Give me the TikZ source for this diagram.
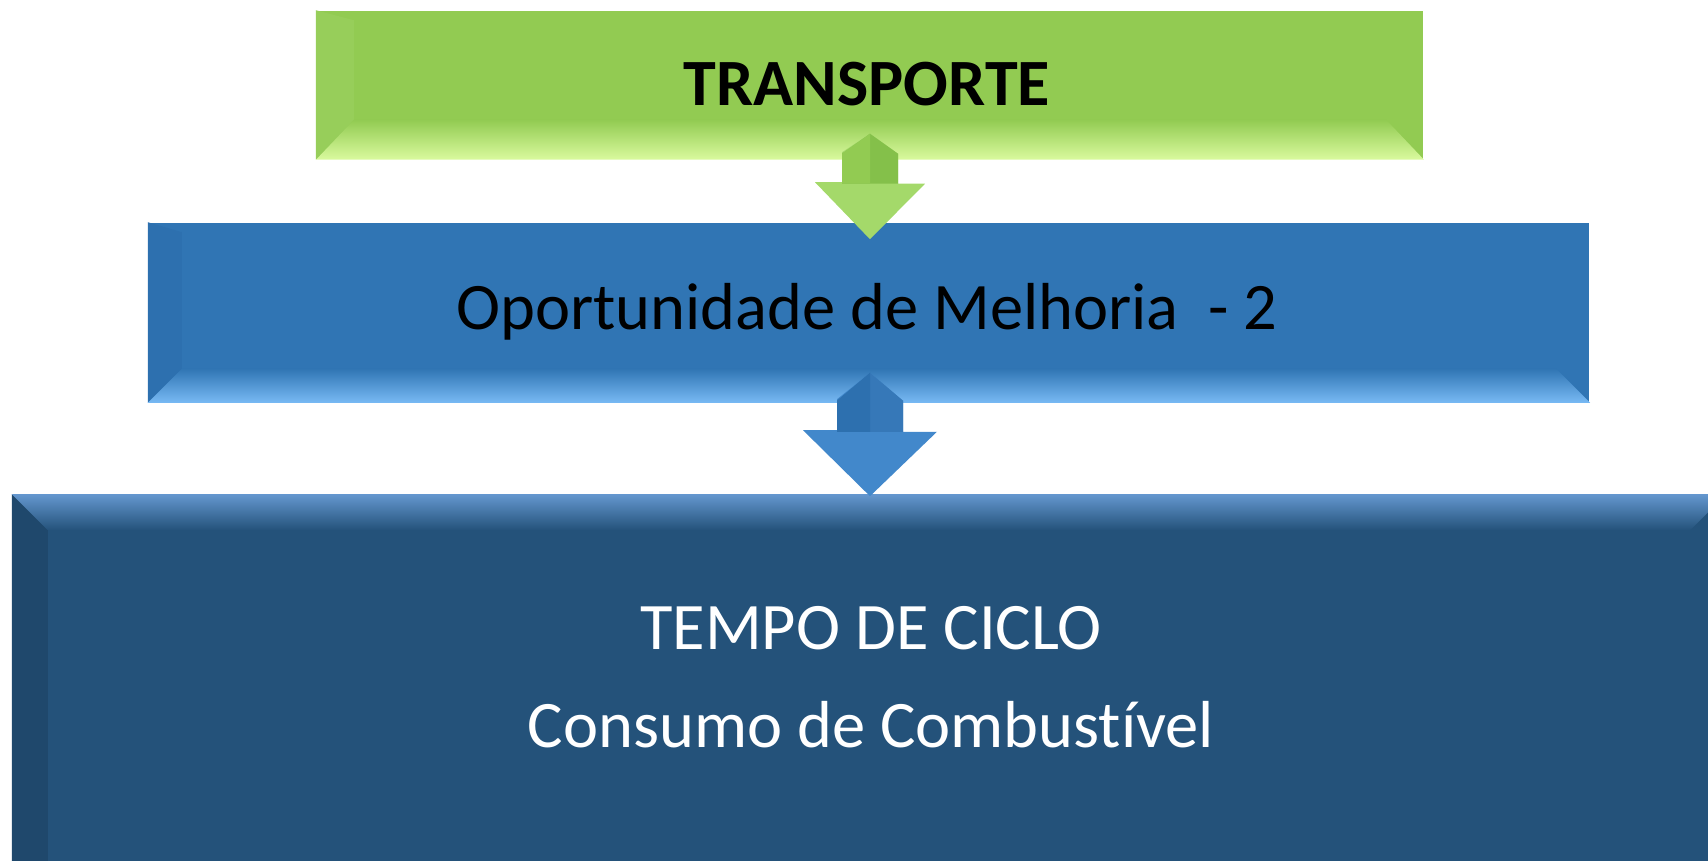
\documentclass[tikz,border=0pt]{standalone}
\usepackage{fontspec}
\setmainfont[Ligatures=NoCommon]{Carlito}
\usetikzlibrary{positioning,calc}

\definecolor{leafgreen}{HTML}{92CB52}
\definecolor{leaflight}{HTML}{DAFA9E}
\definecolor{leafside}{HTML}{97CE5A}
\definecolor{leafshaft}{HTML}{84C04A}
\definecolor{leafhead}{HTML}{A4D96A}
\definecolor{midblue}{HTML}{3075B4}
\definecolor{midlight}{HTML}{78BAF4}
\definecolor{midside}{HTML}{2D70AF}
\definecolor{midshaft}{HTML}{3678B8}
\definecolor{midhead}{HTML}{4288CB}
\definecolor{deepblue}{HTML}{24527A}
\definecolor{deeplight}{HTML}{6497CF}
\definecolor{deepside}{HTML}{1F486C}

\begin{document}
\begin{tikzpicture}[x=0.01cm,y=0.01cm,
  box/.style={rectangle, inner sep=0pt, draw=none},
  lbl/.style={inner sep=0pt, align=center}]
\useasboundingbox (0,0) rectangle (1708,-861);

%Boxes
\node[box, fill=leafgreen, minimum width=11.06cm, minimum height=1.48cm] (T) at (870,-85) {};
\node[box, fill=midblue, minimum width=14.40cm, minimum height=1.79cm] (O) at (869,-312.5) {};
\node[box, fill=deepblue, minimum width=17.12cm, minimum height=3.85cm] (C) at (869,-687.5) {};

%Bevels
\fill[leafside] (T.south west) -- (T.north west) -- ++(38,-10) -- ($(T.south west)+(38,40)$) -- cycle;
\shade[top color=leafgreen, bottom color=leaflight] (T.south west) -- (T.south east) -- ++(-38,40) -- ($(T.south west)+(38,40)$) -- cycle;
\fill[midside] (O.south west) -- (O.north west) -- ++(34,-10) -- ($(O.south west)+(34,34)$) -- cycle;
\shade[top color=midblue, bottom color=midlight] (O.south west) -- (O.south east) -- ++(-34,34) -- ($(O.south west)+(34,34)$) -- cycle;
\fill[deepside] (C.north west) -- (C.south west) -- ++(36,0) -- ($(C.north west)+(36,-36)$) -- cycle;
\shade[top color=deeplight, bottom color=deepblue] (C.north west) -- (C.north east) -- ++(-36,-36) -- ($(C.north west)+(36,-36)$) -- cycle;

%Arrows
\coordinate (a1) at ($(T.south)+(0,26)$);
\coordinate (b1) at ($(O.north)+(1,-17)$);
\fill[leafhead] (a1) -- ++(28,-20) -- ++(0,-30) -- ++(27,0) -- (b1) -- ++(-55,57) -- ++(27,0) -- ++(0,30) -- cycle;
\fill[leafshaft] (a1) -- ++(28,-20) -- ++(0,-30) -- ++(-56,0) -- ++(0,30) -- cycle;
\fill[leafgreen] (a1) -- ++(-28,-20) -- ++(0,-30) -- ++(28,0) -- cycle;
\coordinate (a2) at ($(O.south)+(1,30)$);
\coordinate (b2) at ($(C.north)+(1,-2)$);
\fill[midhead] (a2) -- ++(33,-28) -- ++(0,-31) -- ++(34,0) -- (b2) -- ++(-67,66) -- ++(34,0) -- ++(0,31) -- cycle;
\fill[midshaft] (a2) -- ++(33,-28) -- ++(0,-31) -- ++(-66,0) -- ++(0,31) -- cycle;
\fill[midside] (a2) -- ++(-33,-28) -- ++(0,-31) -- ++(33,0) -- cycle;

%Labels
\node[lbl, font=\bfseries\fontsize{18.8}{22}\selectfont] (Tt) at (867,-84) {TRANSPORTE};
\node[lbl, font=\fontsize{18.9}{22}\selectfont] (Ot) at (867,-312) {Oportunidade de Melhoria\ \ - 2};
\node[lbl, font=\fontsize{18.9}{27.9}\selectfont, text=white] (Ct) at (871,-677) {TEMPO DE CICLO\\Consumo de Combustível};
\end{tikzpicture}
\end{document}
